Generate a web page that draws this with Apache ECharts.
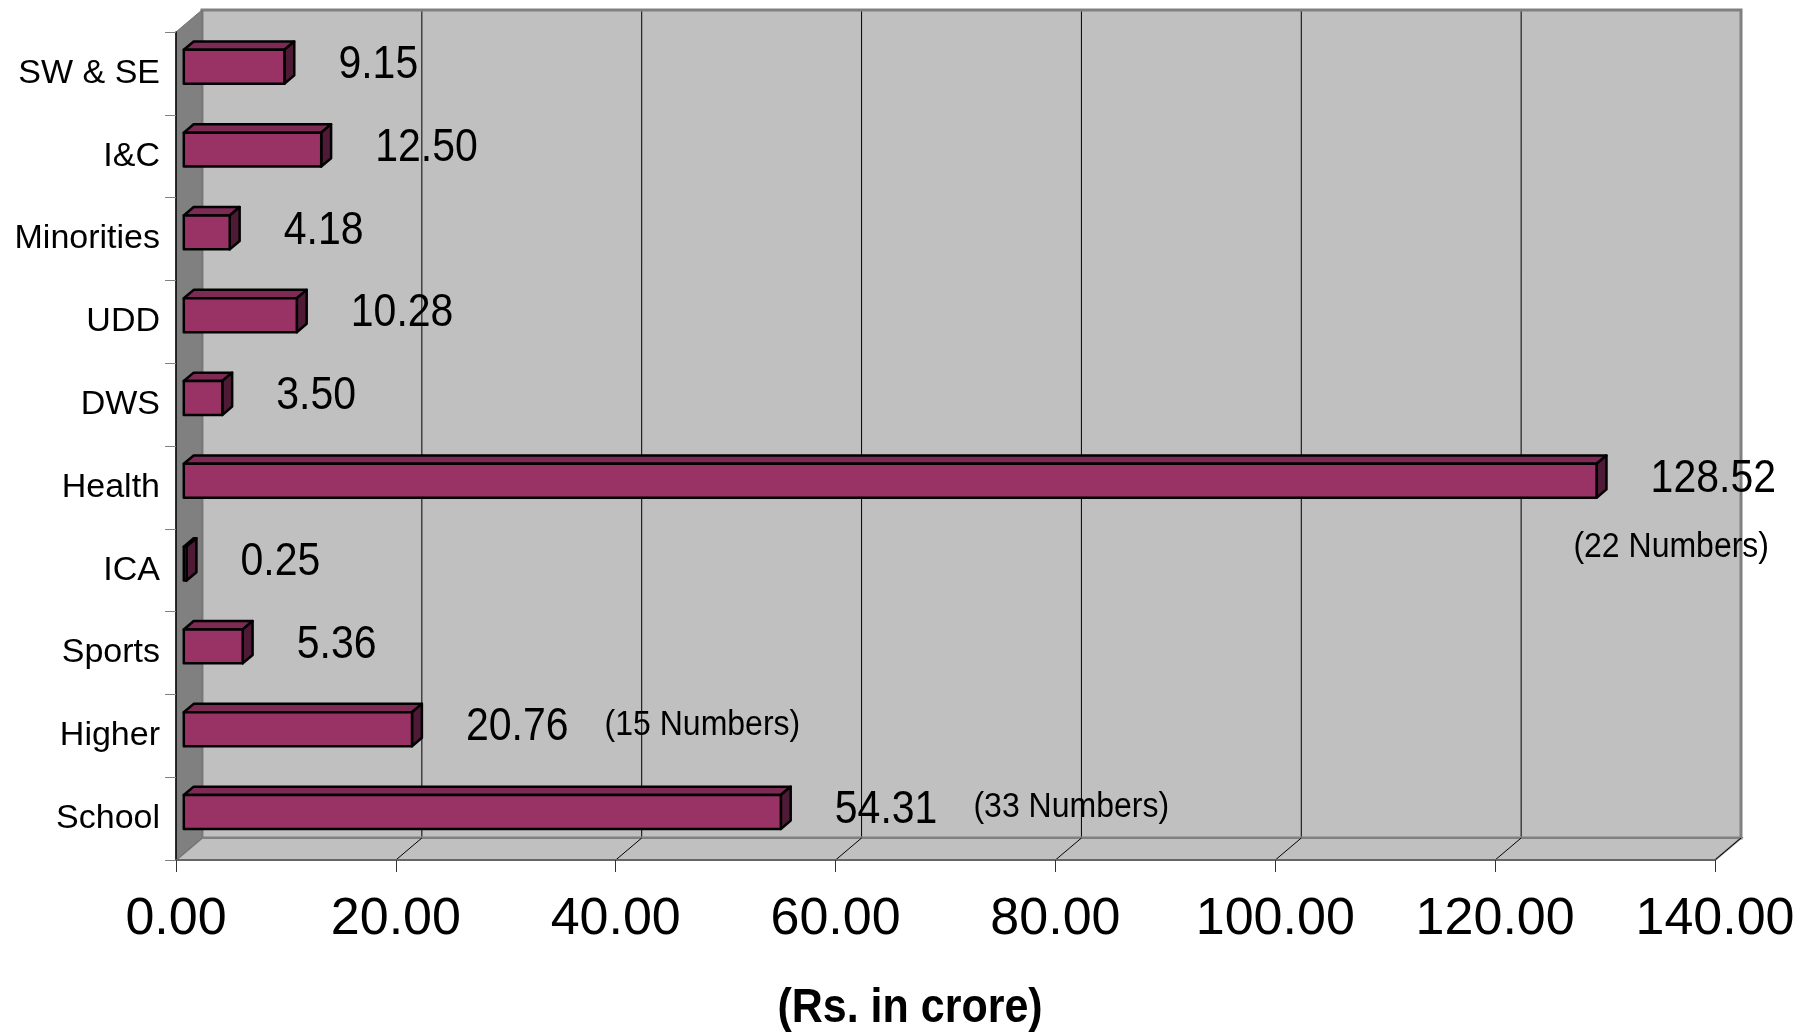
<!DOCTYPE html>
<html><head><meta charset="utf-8">
<script src="https://cdn.jsdelivr.net/npm/echarts/dist/echarts.min.js"></script>
<style>html,body{margin:0;padding:0;background:#fff}#c{width:1802px;height:1032px}</style>
</head><body><div id="c"></div>
<script>
// ---- data ----
const categories = ['SW & SE', 'I&C', 'Minorities', 'UDD', 'DWS', 'Health', 'ICA', 'Sports', 'Higher', 'School'];
const values = [9.15, 12.50, 4.18, 10.28, 3.50, 128.52, 0.25, 5.36, 20.76, 54.31];
const notes = ['', '', '', '', '', '(22 Numbers)', '', '', '(15 Numbers)', '(33 Numbers)'];
const xTicks = [0, 20, 40, 60, 80, 100, 120, 140];
const axisTitle = '(Rs. in crore)';

// ---- styling ----
const FONT = '"Liberation Sans", Arial, sans-serif';
const DX = 26, DY = -22;          // depth of the 3D box
const F1 = 0.3, F2 = 0.68;        // bar front/back depth fractions
const SY = 1.12;                  // vertical stretch of text
const BAR = { front: '#993366', top: '#7d2a55', side: '#4f1a35', edge: '#000' };

const measure = (() => {
  const ctx = document.createElement('canvas').getContext('2d');
  return (t, size, w) => { ctx.font = (w || '') + ' ' + size + 'px ' + FONT; return ctx.measureText(t).width; };
})();

const chart = echarts.init(document.getElementById('c'), null, { renderer: 'canvas' });

function renderFrame(params, api) {
  const cs = params.coordSys;
  const L = cs.x, T = cs.y, R = cs.x + cs.width, B = cs.y + cs.height;
  const ch = [];
  ch.push({ type: 'rect', shape: { x: L + DX, y: T + DY, width: R - L, height: B - T },
    style: { fill: '#c0c0c0', stroke: '#808080', lineWidth: 3 } });
  ch.push({ type: 'polygon', shape: { points: [[L, B], [L + DX, B + DY], [R + DX, B + DY], [R, B]] },
    style: { fill: '#c0c0c0', stroke: '#808080', lineWidth: 2 } });
  ch.push({ type: 'polygon', shape: { points: [[L, T], [L + DX, T + DY], [L + DX, B + DY], [L, B]] },
    style: { fill: '#808080', stroke: '#707070', lineWidth: 1 } });
  xTicks.forEach(v => {
    const x = api.coord([v, 0])[0];
    if (v > xTicks[0] && v < xTicks[xTicks.length - 1]) {
      ch.push({ type: 'line', shape: { x1: x + DX, y1: T + DY + 1.5, x2: x + DX, y2: B + DY - 1.5 },
        style: { stroke: '#000', lineWidth: 1 } });
    }
    if (v > xTicks[0]) {
      ch.push({ type: 'line', shape: { x1: x, y1: B, x2: x + DX, y2: B + DY },
        style: { stroke: '#000', lineWidth: 1 } });
    }
  });
  return { type: 'group', children: ch };
}

function txtEl(text, x, y, size, align) {
  return { type: 'text', x: x, y: y, scaleY: SY,
    style: { text: text, x: 0, y: 0, fill: '#000', fontSize: size, fontFamily: FONT, align: align, verticalAlign: 'middle' } };
}

function renderBar(params, api) {
  const v = api.value(0), ci = api.value(1);
  const c0 = api.coord([0, ci]), c1 = api.coord([v, ci]);
  const band = api.size([0, 1])[1];
  const h = band * 0.41;
  const ox = DX * F1, oy = DY * F1, bx = DX * (F2 - F1), by = DY * (F2 - F1);
  const x0 = c0[0] + ox, x1 = c1[0] + ox, yc = c0[1] + oy;
  const yt = yc - h / 2, yb = yc + h / 2;
  const st = (fill) => ({ fill, stroke: BAR.edge, lineWidth: 2.5, lineJoin: 'round' });
  const ch = [
    { type: 'polygon', shape: { points: [[x0, yt], [x0 + bx, yt + by], [x1 + bx, yt + by], [x1, yt]] }, style: st(BAR.top) },
    { type: 'polygon', shape: { points: [[x1, yt], [x1 + bx, yt + by], [x1 + bx, yb + by], [x1, yb]] }, style: st(BAR.side) },
    { type: 'rect', shape: { x: x0, y: yt, width: x1 - x0, height: h }, style: st(BAR.front) }
  ];
  const txt = values[params.dataIndex].toFixed(2);
  const lx = x1 + 54, ly = c0[1] - 8;
  ch.push(txtEl(txt, lx, ly, 41, 'left'));
  const note = notes[params.dataIndex];
  if (note) {
    const vw = measure(txt, 41), nw = measure(note, 32);
    const cs = params.coordSys, limit = cs.x + cs.width + DX;
    const nx = lx + vw + 36;
    if (nx + nw < limit) {
      ch.push(txtEl(note, nx, ly - 3, 32, 'left'));
    } else {
      ch.push(txtEl(note, lx + vw - 7, ly + 68, 32, 'right'));
    }
  }
  return { type: 'group', children: ch };
}

const option = {
  backgroundColor: '#fff',
  animation: false,
  grid: { left: 176, top: 32, width: 1539, height: 828, containLabel: false },
  xAxis: {
    type: 'value', min: xTicks[0], max: xTicks[xTicks.length - 1], interval: 20, z: 5,
    axisLine: { show: true, lineStyle: { color: '#666', width: 2 } },
    axisTick: { show: true, length: 12, lineStyle: { color: '#333', width: 1 } },
    splitLine: { show: false },
    axisLabel: { formatter: v => v.toFixed(2), fontSize: 52, color: '#000', fontFamily: FONT, margin: 34 }
  },
  yAxis: {
    type: 'category', data: categories, inverse: true, z: 5,
    axisLine: { show: true, lineStyle: { color: '#000', width: 1.5 } },
    axisTick: { show: true, length: 11, lineStyle: { color: '#808080', width: 1 } },
    splitLine: { show: false },
    axisLabel: { fontSize: 34, color: '#000', fontFamily: FONT, margin: 16 }
  },
  graphic: [{
    type: 'text', x: 910, y: 1009, scaleY: SY,
    style: { text: axisTitle, x: 0, y: 0, fontSize: 43, fontWeight: 'bold', fontFamily: FONT, fill: '#000',
      align: 'center', verticalAlign: 'middle' }
  }],
  series: [
    { type: 'custom', z: 1, silent: true, data: [[0, 0]], encode: { x: 0, y: 1 }, renderItem: renderFrame, clip: false },
    { type: 'custom', z: 3, data: values.map((v, i) => [v, i]), encode: { x: 0, y: 1 }, renderItem: renderBar, clip: false }
  ]
};
chart.setOption(option);
</script>
</body></html>
